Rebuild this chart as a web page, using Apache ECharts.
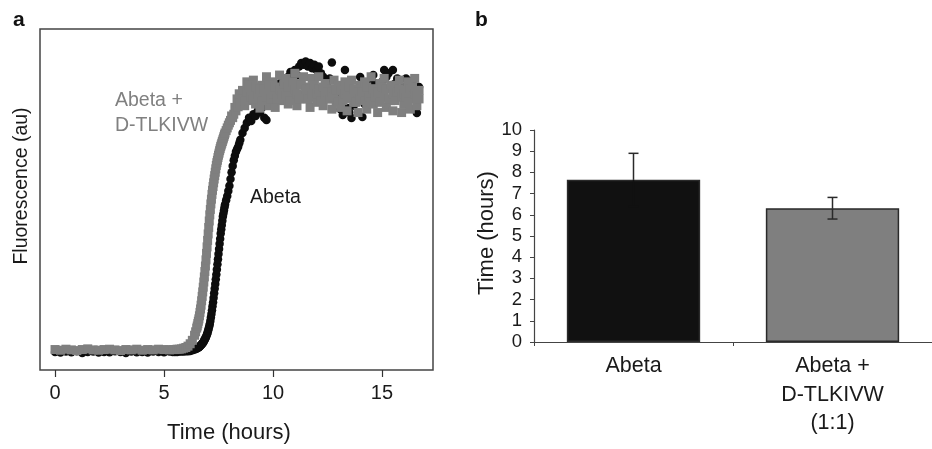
<!DOCTYPE html>
<html><head><meta charset="utf-8">
<script src="https://cdn.jsdelivr.net/npm/echarts@6/dist/echarts.min.js"></script>
<style>html,body{margin:0;padding:0;background:#fff}#c{width:932px;height:449px}</style>
</head><body><div id="c"></div>
<script>
// ---- Panel a: ThT fluorescence kinetics (time in hours, fluorescence in arbitrary units) ----
const times = [
  0,0.25,0.5,0.75,1,1.25,1.5,1.75,2,2.25,2.5,2.75,3,3.25,3.5,3.75,4,4.25,4.5,4.75,5,5.25,
  5.4,5.5,5.6,5.7,5.8,5.9,6.0,6.1,6.2,6.3,6.4,6.45,
  6.5,6.525,6.55,6.575,6.6,6.625,6.65,6.675,6.7,6.725,6.75,6.775,
  6.8,6.825,6.85,6.875,6.9,6.925,6.95,6.975,7.0,7.025,7.05,7.075,
  7.1,7.125,7.15,7.175,7.2,7.225,7.25,7.275,7.3,7.325,7.35,7.375,
  7.4,7.425,7.45,7.475,7.5,7.525,7.55,7.575,7.6,7.625,7.65,7.675,
  7.7,7.725,7.75,7.775,7.8,
  7.85,7.9,7.95,8.0,8.05,8.1,8.15,8.2,8.25,8.3,8.35,8.4,8.45,8.5,
  8.6,8.7,8.8,8.9,
  9.0,9.1,9.2,9.3,9.4,9.5,9.6,9.7,9.8,9.9,
  10.0,10.1,10.2,10.3,10.4,10.5,10.6,10.7,10.8,10.9,
  11.0,11.1,11.2,11.3,11.4,11.5,11.6,11.7,11.8,11.9,
  12.0,12.1,12.2,12.3,12.4,12.5,12.6,12.7,12.8,12.9,
  13.0,13.1,13.2,13.3,13.4,13.5,13.6,13.7,13.8,13.9,
  14.0,14.1,14.2,14.3,14.4,14.5,14.6,14.7,14.8,14.9,
  15.0,15.1,15.2,15.3,15.4,15.5,15.6,15.7,15.8,15.9,
  16.0,16.1,16.2,16.3,16.4,16.5,16.6,16.7
];
const abetaValues = [
  5.3,5.1,5.4,5.2,5.5,5.0,5.3,5.4,5.1,5.3,5.2,5.5,5.3,5.0,5.4,5.2,5.3,5.1,5.4,5.3,5.2,5.4,
  5.3,5.3,5.3,5.4,5.4,5.4,5.5,5.5,5.6,5.8,6.0,6.15,
  6.3,6.4,6.5,6.6,6.7,6.85,7.0,7.15,7.3,7.5,7.7,7.9,
  8.1,8.4,8.7,9.0,9.3,9.7,10.1,10.5,11.0,11.6,12.2,12.8,
  13.5,14.4,15.4,16.4,17.5,18.7,19.9,21.2,22.5,23.9,25.2,26.6,
  28.0,29.5,31.0,32.5,34.0,35.5,37.0,38.5,40.0,41.3,42.5,43.8,
  45.0,45.9,46.8,47.7,48.5,
  49.8,51.0,52.5,54.0,56.0,58.0,59.8,61.5,62.8,64.0,64.8,65.5,66.5,67.5,
  69.5,71.0,72.5,74.0,
  73.0,75.0,74.5,76.0,75.5,77.0,74.0,73.3,78.0,80.0,
  79.5,82.0,81.0,84.0,82.5,85.5,84.0,86.0,87.4,85.0,
  88.0,86.5,89.0,90.0,89.5,90.5,89.0,90.0,88.5,89.5,
  88.0,89.0,87.0,86.0,84.5,83.0,85.5,90.2,82.0,80.0,
  79.0,76.5,74.8,88.0,76.8,75.5,73.9,77.5,79.0,81.5,
  85.9,74.2,78.0,82.0,80.0,83.5,86.5,84.0,80.5,82.5,
  84.5,88.0,85.9,87.0,83.5,88.0,84.0,85.5,82.0,80.0,
  83.0,85.5,79.5,82.5,84.9,81.0,75.4,83.0
];
const peptideValues = [
  6.0,5.8,6.1,5.9,5.7,6.0,6.2,5.9,5.8,6.0,6.1,5.9,5.7,6.0,5.9,6.1,5.8,6.0,5.9,6.1,6.0,5.9,
  6.0,6.0,6.1,6.1,6.2,6.4,6.6,7.0,7.7,8.7,10.2,11.2,
  12.3,12.9,13.6,14.3,15.0,15.9,16.9,17.9,19.0,20.3,21.6,22.9,
  24.3,25.8,27.3,28.9,30.5,32.3,34.2,36.1,38.0,39.9,41.8,43.7,
  45.5,47.1,48.7,50.1,51.5,52.7,53.8,54.9,56.0,57.0,58.0,59.0,
  60.0,60.8,61.5,62.3,63.0,63.6,64.3,64.9,65.5,66.0,66.5,67.0,
  67.5,68.0,68.5,69.0,69.5,
  70.2,71.0,71.8,72.5,73.2,74.5,74.0,75.0,77.0,76.0,79.5,77.2,81.0,78.3,
  80.5,77.5,84.5,79.0,
  82.5,85.0,78.0,81.5,76.8,83.5,79.5,86.0,77.5,82.0,
  84.5,77.0,81.0,86.5,79.0,83.5,85.5,78.0,82.5,80.0,
  87.0,77.5,84.0,79.5,86.0,81.5,83.0,77.0,85.5,80.0,
  78.5,86.0,81.0,77.5,84.0,79.5,82.5,76.5,85.0,79.0,
  83.5,77.0,80.5,84.5,76.0,82.0,85.0,78.5,81.0,75.5,
  83.5,79.5,84.5,76.5,82.0,86.0,78.0,81.5,75.5,84.0,
  80.0,85.5,77.0,82.5,79.0,76.0,83.0,80.5,85.0,75.5,
  78.0,82.0,84.5,76.5,79.5,85.5,77.5,82.0
];
// second Abeta + D-TLKIVW well on the plateau, from 8.6 h to 16.7 h
const peptideStartTime = 8.6;
const peptideValuesWell2 = [
  82.0,79.0,81.5,83.5,80.0,
  79.5,83.0,80.5,82.5,79.0,
  82.5,80.0,83.5,79.5,81.0,
  83.0,79.5,82.0,80.5,84.0,
  80.5,83.0,79.0,84.5,82.0,
  81.0,79.5,83.5,80.5,82.5,
  79.5,82.0,80.5,83.5,81.0,
  82.5,79.0,83.0,80.5,81.5,
  79.5,81.5,80.0,82.0,78.5,
  82.0,79.0,81.0,79.5,83.0,
  80.0,82.5,78.5,81.5,79.5,
  81.5,79.0,83.0,80.0,78.5,
  82.5,80.0,81.5,78.5,83.0,
  80.5,82.5,79.5,83.5,81.0,
  79.0,81.5,82.5,80.0,81.0,
  80.0,78.5,82.5,83.0,81.0,
  80.5,79.5
];
const timeTicks = [0, 5, 10, 15];

// ---- Panel b: lag times ----
const barCategories = ['Abeta', 'Abeta +\nD-TLKIVW\n(1:1)'];
const barMeans = [7.65, 6.31];
const barErrors = [1.25, 0.51];
const barColors = ['#111111', '#7f7f7f'];
const errorColors = ['#111111', '#2a2a2a'];

const FONT = 'Liberation Sans, Arial, sans-serif';
const TXT = '#1a1a1a';

const chart = echarts.init(document.getElementById('c'), null, {renderer: 'canvas'});
const zip = (xs, ys) => xs.map((x, i) => [x, ys[i]]);
const well2Times = times.slice(times.indexOf(peptideStartTime));

chart.setOption({
  backgroundColor: '#fff',
  animation: false,
  textStyle: {fontFamily: FONT},
  grid: [
    {left: 40, top: 29, width: 393, height: 341, show: true, borderColor: '#444', borderWidth: 1.5, backgroundColor: 'transparent'},
    {left: 534, top: 130, width: 412, height: 212, show: false}
  ],
  xAxis: [
    {
      gridIndex: 0, type: 'value', min: -0.69, max: 17.34,
      axisLine: {show: false},
      axisTick: {show: true, customValues: timeTicks, length: 7, lineStyle: {color: '#333', width: 1.2}},
      axisLabel: {show: true, customValues: timeTicks, margin: 13, fontSize: 20, color: TXT, fontFamily: FONT},
      splitLine: {show: false}
    },
    {
      gridIndex: 1, type: 'category', data: barCategories, boundaryGap: true,
      axisLine: {show: true, lineStyle: {color: '#444', width: 1.2}},
      axisTick: {show: true, length: 4, lineStyle: {color: '#444'}},
      axisLabel: {margin: 10, fontSize: 21.5, lineHeight: 28.5, color: TXT, fontFamily: FONT, interval: 0},
      splitLine: {show: false}
    }
  ],
  yAxis: [
    {
      gridIndex: 0, type: 'value', min: 0, max: 100,
      axisLine: {show: false}, axisTick: {show: false}, axisLabel: {show: false}, splitLine: {show: false}
    },
    {
      gridIndex: 1, type: 'value', min: 0, max: 10, interval: 1,
      axisLine: {show: true, lineStyle: {color: '#444', width: 1.2}},
      axisTick: {show: true, length: 4, lineStyle: {color: '#444'}},
      axisLabel: {margin: 12, fontSize: 18.5, color: TXT, fontFamily: FONT},
      splitLine: {show: false}
    }
  ],
  series: [
    {
      name: 'Abeta', type: 'scatter', xAxisIndex: 0, yAxisIndex: 0,
      symbol: 'circle', symbolSize: 8.5,
      itemStyle: {color: '#0d0d0d', opacity: 1},
      data: zip(times, abetaValues), z: 2
    },
    {
      name: 'Abeta + D-TLKIVW', type: 'scatter', xAxisIndex: 0, yAxisIndex: 0,
      symbol: 'rect', symbolSize: 9,
      itemStyle: {color: '#7f7f7f', opacity: 1},
      data: zip(times, peptideValues), z: 3
    },
    {
      name: 'Abeta + D-TLKIVW (well 2)', type: 'scatter', xAxisIndex: 0, yAxisIndex: 0,
      symbol: 'rect', symbolSize: 9,
      itemStyle: {color: '#7f7f7f', opacity: 1},
      data: zip(well2Times, peptideValuesWell2), z: 3
    },
    {
      type: 'bar', xAxisIndex: 1, yAxisIndex: 1, barWidth: '67%',
      data: barMeans.map((v, i) => ({value: v, itemStyle: {color: barColors[i], borderColor: '#2a2a2a', borderWidth: 1.5}})),
      z: 2
    },
    {
      type: 'custom', xAxisIndex: 1, yAxisIndex: 1, z: 10,
      data: barMeans.map((m, i) => [i, m - barErrors[i], m + barErrors[i]]),
      renderItem: function (params, api) {
        const x = api.value(0);
        const lo = api.coord([x, api.value(1)]);
        const hi = api.coord([x, api.value(2)]);
        const top = api.coord([x, barMeans[params.dataIndex]]);
        const hw = 5;
        const c = errorColors[params.dataIndex];
        const outer = {stroke: '#2a2a2a', lineWidth: 1.5};
        const inner = {stroke: c, lineWidth: 1.5};
        return {type: 'group', children: [
          {type: 'line', shape: {x1: hi[0], y1: hi[1], x2: top[0], y2: top[1]}, style: outer},
          {type: 'line', shape: {x1: top[0], y1: top[1], x2: lo[0], y2: lo[1]}, style: inner},
          {type: 'line', shape: {x1: hi[0] - hw, y1: hi[1], x2: hi[0] + hw, y2: hi[1]}, style: outer},
          {type: 'line', shape: {x1: lo[0] - hw, y1: lo[1], x2: lo[0] + hw, y2: lo[1]}, style: inner}
        ]};
      }
    }
  ],
  graphic: [
    {type: 'text', left: 13, top: 10, style: {text: 'a', font: 'bold 21px ' + FONT, fill: '#111'}},
    {type: 'text', left: 475, top: 10, style: {text: 'b', font: 'bold 21px ' + FONT, fill: '#111'}},
    {type: 'text', x: 22, y: 186, rotation: Math.PI / 2,
      style: {text: 'Fluorescence (au)', font: '19.5px ' + FONT, fill: TXT, align: 'center', verticalAlign: 'middle'}},
    {type: 'text', x: 229, y: 433,
      style: {text: 'Time (hours)', font: '22px ' + FONT, fill: TXT, align: 'center', verticalAlign: 'middle'}},
    {type: 'text', x: 487, y: 233, rotation: Math.PI / 2,
      style: {text: 'Time (hours)', font: '22px ' + FONT, fill: TXT, align: 'center', verticalAlign: 'middle'}},
    {type: 'text', x: 115, y: 101,
      style: {text: 'Abeta +', font: '19.5px ' + FONT, fill: '#808080', align: 'left', verticalAlign: 'middle'}},
    {type: 'text', x: 115, y: 126,
      style: {text: 'D-TLKIVW', font: '19.5px ' + FONT, fill: '#808080', align: 'left', verticalAlign: 'middle'}},
    {type: 'text', x: 250, y: 198,
      style: {text: 'Abeta', font: '19.5px ' + FONT, fill: '#1a1a1a', align: 'left', verticalAlign: 'middle'}}
  ]
});
</script>
</body></html>
